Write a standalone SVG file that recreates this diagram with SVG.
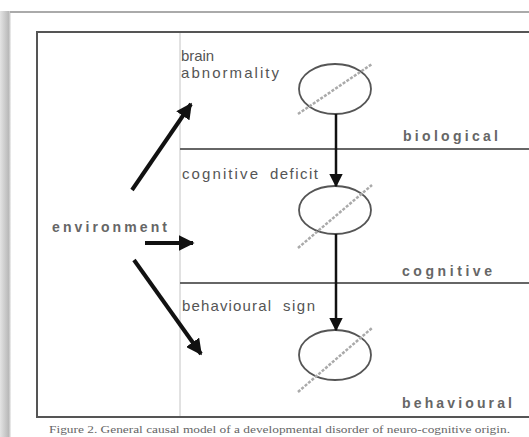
<svg xmlns="http://www.w3.org/2000/svg" width="529" height="437" viewBox="0 0 529 437">
<defs>
<linearGradient id="shade" x1="0" y1="0" x2="1" y2="0">
<stop offset="0" stop-color="#e4e4e4"/>
<stop offset="0.8" stop-color="#b8b8b8"/>
<stop offset="1" stop-color="#f4f4f4"/>
</linearGradient>
<marker id="head" viewBox="0 0 10 10" refX="9" refY="5" markerWidth="4" markerHeight="4" orient="auto" markerUnits="strokeWidth">
<path d="M0,0 L10,5 L0,10 z" fill="#111"/>
</marker>
<marker id="headv" viewBox="0 0 10 10" refX="9" refY="5" markerWidth="5.5" markerHeight="5.5" orient="auto" markerUnits="strokeWidth">
<path d="M0,0 L10,5 L0,10 z" fill="#111"/>
</marker>
</defs>
<style>
.lbl{font-family:"Liberation Sans",Arial,sans-serif;font-size:15px;fill:#555;}
.lvl{font-family:"Liberation Sans",Arial,sans-serif;font-size:14px;fill:#666;font-weight:bold;}
.cap{font-family:"Liberation Serif","Times New Roman",serif;font-size:10px;fill:#666;}
.ell{fill:none;stroke:#555;stroke-width:1.8;}
.hatch{stroke:#aaa;stroke-width:2.5;stroke-dasharray:3 1.5;}
.band{stroke:#666;stroke-width:2;}
.thick{stroke:#111;stroke-width:4;fill:none;}
.vert{stroke:#111;stroke-width:2.5;fill:none;}
</style>
<rect x="0" y="0" width="529" height="437" fill="#ffffff"/>
<rect x="0" y="11" width="11" height="426" fill="url(#shade)"/>
<line x1="10" y1="12" x2="529" y2="12" stroke="#aaa" stroke-width="2"/>
<g id="frame">
<rect x="37" y="32" width="500" height="385" fill="none" stroke="#555" stroke-width="2"/>
<line x1="180" y1="33" x2="180" y2="416" stroke="#c4c4c4" stroke-width="1"/>
<line class="band" x1="180" y1="149" x2="529" y2="149"/>
<line class="band" x1="180" y1="283" x2="529" y2="283"/>
</g>
<g id="level-biological"><text class="lvl" x="403" y="141" textLength="95" lengthAdjust="spacing">biological</text></g>
<g id="level-cognitive"><text class="lvl" x="402" y="276" textLength="90" lengthAdjust="spacing">cognitive</text></g>
<g id="level-behavioural"><text class="lvl" x="402" y="408" textLength="110" lengthAdjust="spacing">behavioural</text></g>
<g id="environment"><text class="lvl" x="52" y="232" textLength="115" lengthAdjust="spacing">environment</text></g>
<g id="brain-abnormality">
<text class="lbl" x="181" y="61" textLength="33" lengthAdjust="spacing">brain</text>
<text class="lbl" x="181" y="78" textLength="98" lengthAdjust="spacing">abnormality</text>
<ellipse class="ell" cx="335" cy="89" rx="36" ry="25"/>
<line class="hatch" x1="298" y1="114" x2="372" y2="64"/>
</g>
<g id="cognitive-deficit">
<text class="lbl" x="182" y="179"><tspan textLength="76" lengthAdjust="spacing">cognitive</tspan><tspan x="270" textLength="48" lengthAdjust="spacing">deficit</tspan></text>
<ellipse class="ell" cx="335" cy="210" rx="36" ry="24"/>
<line class="hatch" x1="298" y1="248" x2="372" y2="185"/>
</g>
<g id="behavioural-sign">
<text class="lbl" x="182" y="311"><tspan textLength="89" lengthAdjust="spacing">behavioural</tspan><tspan x="283" textLength="32" lengthAdjust="spacing">sign</tspan></text>
<ellipse class="ell" cx="335" cy="355" rx="36" ry="25"/>
<line class="hatch" x1="298" y1="392" x2="372" y2="328"/>
</g>
<g id="connectors">
<line class="thick" x1="132" y1="190" x2="191" y2="104" marker-end="url(#head)"/>
<line class="thick" x1="145" y1="243" x2="193" y2="243" marker-end="url(#head)"/>
<line class="thick" x1="134" y1="260" x2="201" y2="354" marker-end="url(#head)"/>
<line class="vert" x1="336" y1="114" x2="336" y2="186" marker-end="url(#headv)"/>
<line class="vert" x1="336" y1="234" x2="336" y2="330" marker-end="url(#headv)"/>
</g>
<g id="caption"><text class="cap" x="49" y="433" textLength="461" lengthAdjust="spacingAndGlyphs">Figure 2. General causal model of a developmental disorder of neuro-cognitive origin.</text></g>
</svg>
